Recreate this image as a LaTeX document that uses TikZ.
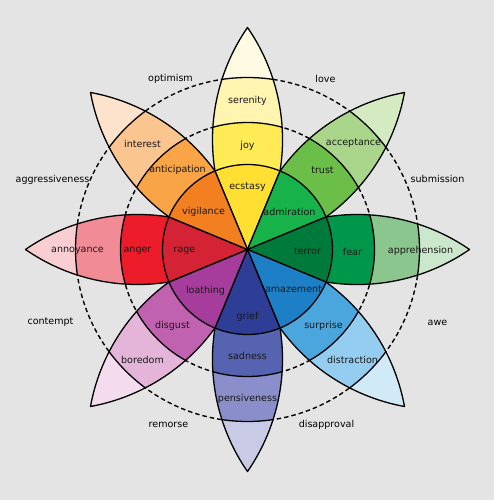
\documentclass[tikz,border=0pt]{standalone}
\usepackage{fontspec}
\setmainfont{DejaVu Sans}
\usepackage{tikz}

\definecolor{bg}{HTML}{E4E4E4}
% joy
\definecolor{joyA}{HTML}{FFDF32}
\definecolor{joyB}{HTML}{FFEB55}
\definecolor{joyC}{HTML}{FFF4B0}
\definecolor{joyD}{HTML}{FFFBE3}
% trust
\definecolor{trustA}{HTML}{17B24A}
\definecolor{trustB}{HTML}{6BBE47}
\definecolor{trustC}{HTML}{A9D68A}
\definecolor{trustD}{HTML}{D4EBC2}
% fear
\definecolor{fearA}{HTML}{007A3B}
\definecolor{fearB}{HTML}{00974A}
\definecolor{fearC}{HTML}{8CC68F}
\definecolor{fearD}{HTML}{CCE8CC}
% surprise
\definecolor{surpA}{HTML}{1D80C7}
\definecolor{surpB}{HTML}{4AA6DD}
\definecolor{surpC}{HTML}{94CDEF}
\definecolor{surpD}{HTML}{D0EAF8}
% sadness
\definecolor{sadA}{HTML}{2E3D96}
\definecolor{sadB}{HTML}{5563B1}
\definecolor{sadC}{HTML}{8A8FCB}
\definecolor{sadD}{HTML}{C9CAE6}
% disgust
\definecolor{disgA}{HTML}{A63C9C}
\definecolor{disgB}{HTML}{C062B0}
\definecolor{disgC}{HTML}{E5B5D9}
\definecolor{disgD}{HTML}{F4DCEE}
% anger
\definecolor{angA}{HTML}{D42335}
\definecolor{angB}{HTML}{EC1C2A}
\definecolor{angC}{HTML}{F18C96}
\definecolor{angD}{HTML}{F9CED3}
% anticipation
\definecolor{antA}{HTML}{F28021}
\definecolor{antB}{HTML}{F9A547}
\definecolor{antC}{HTML}{FBC58F}
\definecolor{antD}{HTML}{FDE3CB}

\newcommand{\petalpath}{(0,0) -- (67.5:85) arc[start angle=-9.13, end angle=34.66, radius=197.3] arc[start angle=145.34, end angle=189.13, radius=197.3] -- cycle}

\newcommand{\petal}[5]{%
  \begin{scope}[rotate=#1]
    \begin{scope}
      \clip \petalpath;
      \fill[#5] (0,0) circle[radius=230];
      \fill[#4] (0,0) circle[radius=172];
      \fill[#3] (0,0) circle[radius=127];
      \fill[#2] (0,0) circle[radius=85];
      \draw[edge] (0,0) circle[radius=172] (0,0) circle[radius=127] (0,0) circle[radius=85];
    \end{scope}
    \draw[edge] \petalpath;
  \end{scope}}

\begin{document}
\begin{tikzpicture}[x=1bp,y=1bp,
  edge/.style={draw=black,line width=1.3bp,line join=round},
  guide/.style={draw=black,line width=1.4bp,dash pattern=on 4.5bp off 3bp},
  emo/.style={font=\fontsize{9.6}{11}\selectfont,text=black!90,inner sep=0pt},
  dyad/.style={font=\fontsize{9.6}{11}\selectfont,text=black,inner sep=0pt}]

\useasboundingbox (-247.5,-250.5) rectangle (246.5,249.5);
\fill[bg] (-247.5,-250.5) rectangle (246.5,249.5);

\draw[guide] (0,0) circle[radius=127];
\draw[guide] (0,0) circle[radius=172];

\petal{0}{joyA}{joyB}{joyC}{joyD}
\petal{-45}{trustA}{trustB}{trustC}{trustD}
\petal{-90}{fearA}{fearB}{fearC}{fearD}
\petal{-135}{surpA}{surpB}{surpC}{surpD}
\petal{180}{sadA}{sadB}{sadC}{sadD}
\petal{135}{disgA}{disgB}{disgC}{disgD}
\petal{90}{angA}{angB}{angC}{angD}
\petal{45}{antA}{antB}{antC}{antD}

% inner ring
\node[emo] (ecstasy) at (0,62) {ecstasy};
\node[emo] (admiration) at (42,38) {admiration};
\node[emo] (terror) at (60,-2) {terror};
\node[emo] (amazement) at (46,-40) {amazement};
\node[emo] (grief) at (0,-67) {grief};
\node[emo] (loathing) at (-42,-41) {loathing};
\node[emo] (rage) at (-63,-1) {rage};
\node[emo] (vigilance) at (-44,38) {vigilance};

% middle ring
\node[emo] (joy) at (0,104) {joy};
\node[emo] (trust) at (75,79) {trust};
\node[emo] (fear) at (105,-2) {fear};
\node[emo] (surprise) at (76,-76) {surprise};
\node[emo] (sadness) at (0,-106) {sadness};
\node[emo] (disgust) at (-75,-76) {disgust};
\node[emo] (anger) at (-110,-1) {anger};
\node[emo] (anticipation) at (-70,80) {anticipation};

% outer ring
\node[emo] (serenity) at (0,149) {serenity};
\node[emo] (acceptance) at (106,106) {acceptance};
\node[emo] (apprehension) at (173,-1) {apprehension};
\node[emo] (distraction) at (105,-110) {distraction};
\node[emo] (pensiveness) at (0,-149) {pensiveness};
\node[emo] (boredom) at (-105,-110) {boredom};
\node[emo] (annoyance) at (-170,-1) {annoyance};
\node[emo] (interest) at (-105,106) {interest};

% dyads
\node[dyad] (love) at (78,171) {love};
\node[dyad] (submission) at (190,71) {submission};
\node[dyad] (awe) at (190,-73) {awe};
\node[dyad] (disapproval) at (79,-175) {disapproval};
\node[dyad] (remorse) at (-79,-175) {remorse};
\node[dyad] (contempt) at (-197,-73) {contempt};
\node[dyad] (aggressiveness) at (-195,70) {aggressiveness};
\node[dyad] (optimism) at (-77,171) {optimism};
\end{tikzpicture}
\end{document}
